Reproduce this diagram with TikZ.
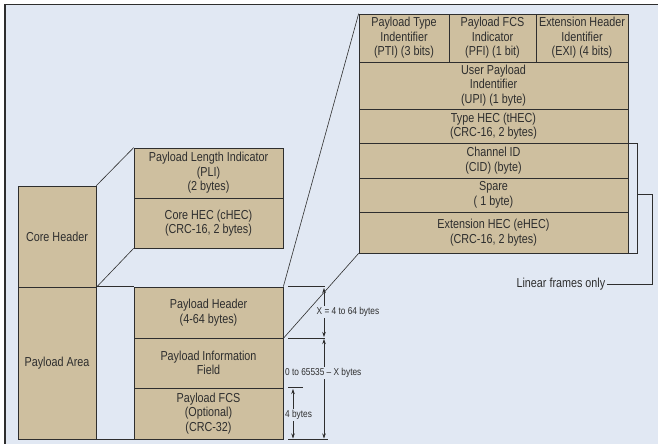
\documentclass[tikz,border=0pt]{standalone}
\usepackage{fontspec}
\setmainfont{Liberation Sans}[FakeStretch=0.83]
\usetikzlibrary{arrows.meta}
\definecolor{bgblue}{HTML}{E1E8F3}
\definecolor{fieldtan}{HTML}{CEBF9F}
\definecolor{ink}{HTML}{2E2E2E}

\begin{document}
\begin{tikzpicture}[x=1pt, y=-1pt,
    field/.style={draw=ink, fill=fieldtan, line width=0.7pt, text=ink, align=center,
      inner sep=0pt, font=\fontsize{13}{14.5}\selectfont},
    conn/.style={draw=ink, line width=0.6pt},
    dim/.style={draw=ink, line width=0.6pt,
      {Stealth[length=5pt,width=3.5pt]}-{Stealth[length=5pt,width=3.5pt]}},
    dimlabel/.style={fill=bgblue, text=ink, inner sep=1.5pt, font=\fontsize{10}{11}\selectfont}]
    \useasboundingbox (0,0) rectangle (658,444);
    % background and frame
    \fill[bgblue] (5,4.5) rectangle (658,444);
    \draw[ink, line width=1.2pt] (5,444) -- (5,4.5) -- (658,4.5);

    % left column
    \node[field, minimum width=78pt, minimum height=101pt] (core) at (57,236.5) {Core Header};
    \node[field, minimum width=78pt, minimum height=152pt] (parea) at (57,363) {Payload Area};

    % core header fields
    \node[field, minimum width=149pt, minimum height=50pt] (pli) at (208.5,173) {Payload Length Indicator\\(PLI)\\(2 bytes)};
    \node[field, minimum width=149pt, minimum height=50pt] (chec) at (208.5,223) {Core HEC (cHEC)\\(CRC-16, 2 bytes)};

    % payload area fields
    \node[field, minimum width=149pt, minimum height=51pt] (phdr) at (208.5,312.5) {Payload Header\\(4-64 bytes)};
    \node[field, minimum width=149pt, minimum height=50pt] (pif) at (208.5,363) {Payload Information\\Field};
    \node[field, minimum width=149pt, minimum height=51pt] (pfcs) at (208.5,413.5) {Payload FCS\\(Optional)\\(CRC-32)};

    % payload header fields
    \node[field, minimum width=90pt, minimum height=48pt] (pti) at (404,38) {Payload Type\\Indentifier\\(PTI) (3 bits)};
    \node[field, minimum width=87pt, minimum height=48pt] (pfi) at (492.5,38) {Payload FCS\\Indicator\\(PFI) (1 bit)};
    \node[field, minimum width=92pt, minimum height=48pt] (exi) at (582,38) {Extension Header\\Identifier\\(EXI) (4 bits)};
    \node[field, minimum width=269pt, minimum height=47pt] (upi) at (493.5,85.5) {User Payload\\Indentifier\\(UPI) (1 byte)};
    \node[field, minimum width=269pt, minimum height=34pt] (thec) at (493.5,126) {Type HEC (tHEC)\\(CRC-16, 2 bytes)};
    \node[field, minimum width=269pt, minimum height=35pt] (cid) at (493.5,160.5) {Channel ID\\(CID) (byte)};
    \node[field, minimum width=269pt, minimum height=34pt] (spare) at (493.5,195) {Spare\\( 1 byte)};
    \node[field, minimum width=269pt, minimum height=41pt] (ehec) at (493.5,232.5) {Extension HEC (eHEC)\\(CRC-16, 2 bytes)};

    % expansion lines
    \draw[conn] (parea.north east) -- (phdr.north west);
    \draw[conn] (parea.south east) -- (pfcs.south west);
    \draw[conn] (core.north east) -- (pli.north west);
    \draw[conn] (core.south east) -- (chec.south west);
    \draw[conn] (phdr.north east) -- (pti.north west);
    \draw[conn] (phdr.south east) -- (ehec.south west);

    % dimensions
    \draw[conn] (phdr.north east) ++(5,0) -- ++(37,0);
    \draw[conn] (phdr.south east) ++(5,0) -- ++(37,0);
    \draw[conn] (pfcs.south east) ++(5,0) -- ++(40,0);
    \draw[conn] (pfcs.north east) ++(5,0) -- ++(15,0);
    \coordinate (t1) at (324,288);
    \coordinate (t2) at (324,337);
    \coordinate (t3) at (324,339);
    \coordinate (t4) at (324,438.5);
    \coordinate (f1) at (293,389);
    \coordinate (f2) at (293,438.5);
    \draw[dim] (t1) -- (t2);
    \draw[dim] (t3) -- (t4);
    \draw[dim] (f1) -- (f2);
    \node[dimlabel, anchor=west] (xlen) at (315,312) {X = 4 to 64 bytes};
    \node[dimlabel, anchor=west] (ilen) at (283.5,373) {0 to 65535 -- X bytes};
    \node[dimlabel, anchor=west] (flen) at (283.5,415) {4 bytes};

    % linear frames bracket
    \node[text=ink, inner sep=1.5pt, anchor=east, font=\fontsize{13}{14}\selectfont] (lin) at (607,284) {Linear frames only};
    \draw[conn] (thec.south east) -- ++(9,0) |- (ehec.south east);
    \coordinate (brk) at (637,194);
    \draw[conn] (brk) -- ++(15,0) |- (lin.east);
\end{tikzpicture}
\end{document}
